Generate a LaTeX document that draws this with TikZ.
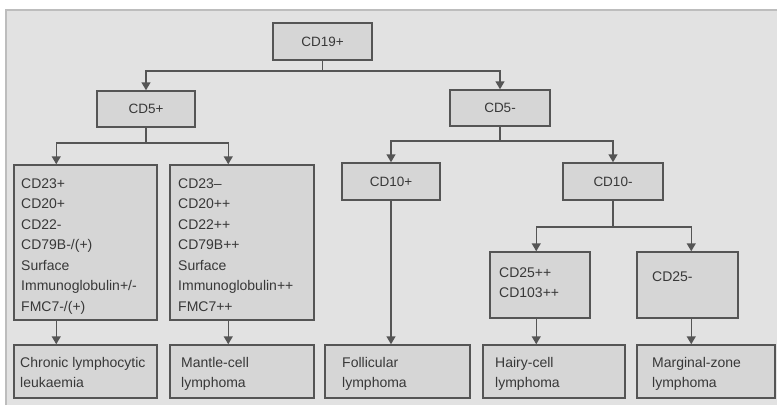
\documentclass[tikz,border=0pt]{standalone}
\usepackage{fontspec}
\setmainfont{Liberation Sans}
\usetikzlibrary{arrows.meta,calc}
\definecolor{panel}{HTML}{E2E2E2}
\definecolor{paneledge}{HTML}{BDBDBD}
\definecolor{boxfill}{HTML}{D6D6D6}
\definecolor{edge}{HTML}{555555}
\definecolor{ink}{HTML}{383838}
\tikzset{
  box/.style={draw=edge, fill=boxfill, line width=1.5pt, rectangle, inner sep=0pt,
    text=ink, font=\fontsize{13.5}{20.5}\selectfont},
  txt/.style={anchor=north west, inner sep=0pt, align=left, text=ink,
    font=\fontsize{14}{20.5}\selectfont},
  txtb/.style={anchor=north west, inner sep=0pt, align=left, text=ink,
    font=\fontsize{14}{19.5}\selectfont},
  conn/.style={draw=edge, line width=1.5pt},
  arr/.style={conn, -{Triangle[width=9pt,length=8pt]}}
}
\begin{document}
\begin{tikzpicture}[x=1pt,y=-1pt]
\useasboundingbox (0,0) rectangle (777,405);
\fill[panel] (6,10) rectangle (777,405);
\draw[paneledge, line width=1.5pt] (6,405) -- (6,10) -- (777,10);

% level 1
\node[box, minimum width=99pt, minimum height=37pt] (cd19) at (322.5,41.5) {CD19+};
% level 2
\node[box, minimum width=98pt, minimum height=36pt] (cd5p) at (146,109) {CD5+};
\node[box, minimum width=100pt, minimum height=36pt] (cd5m) at (500,108) {CD5-};
% level 3
\node[box, minimum width=143pt, minimum height=155pt] (b1) at (85.5,242.5) {};
\node[box, minimum width=144pt, minimum height=155pt] (b2) at (242,242.5) {};
\node[box, minimum width=98pt, minimum height=37pt] (cd10p) at (391,181.5) {CD10+};
\node[box, minimum width=100pt, minimum height=37pt] (cd10m) at (613,181.5) {CD10-};
% level 4
\node[box, minimum width=100pt, minimum height=66pt] (cd25p) at (540,285) {};
\node[box, minimum width=101pt, minimum height=66pt] (cd25m) at (687.5,285) {};
% level 5
\node[box, minimum width=143pt, minimum height=53pt] (chr) at (85.5,371.5) {};
\node[box, minimum width=144pt, minimum height=53pt] (man) at (242,371.5) {};
\node[box, minimum width=145pt, minimum height=53pt] (fol) at (397.5,371.5) {};
\node[box, minimum width=142pt, minimum height=53pt] (hai) at (554,371.5) {};
\node[box, minimum width=138pt, minimum height=53pt] (mar) at (706,371.5) {};

% texts
\node[txt] (t1) at (21,178.5) {CD23+\\CD20+\\CD22-\\CD79B-/(+)\\Surface\\Immunoglobulin+/-\\FMC7-/(+)};
\node[txt] (t2) at (178,178.5) {CD23--\\CD20++\\CD22++\\CD79B++\\Surface\\Immunoglobulin++\\FMC7++};
\node[txt] (t3) at (499,267.5) {CD25++\\CD103++};
\node[txt] (t4) at (652,271.5) {CD25-};
\node[txtb] (t5) at (20,357.5) {Chronic lymphocytic\\leukaemia};
\node[txtb] (t6) at (181,357.5) {Mantle-cell\\lymphoma};
\node[txtb] (t7) at (342,357.5) {Follicular\\lymphoma};
\node[txtb] (t8) at (495,357.5) {Hairy-cell\\lymphoma};
\node[txtb] (t9) at (652,357.5) {Marginal-zone\\lymphoma};

% connectors
\draw[conn] (cd19.south) -- ++(0,10) coordinate (j1);
\draw[arr] (j1) -| (cd5p.north);
\draw[arr] (j1) -| (cd5m.north);

\coordinate (a1) at ($(b1.north west)+(43,0)$);
\coordinate (a2) at ($(b2.north west)+(59,0)$);
\draw[conn] (cd5p.south) -- ++(0,15) coordinate (j2);
\draw[arr] (j2) -| (a1);
\draw[arr] (j2) -| (a2);

\draw[conn] (cd5m.south) -- ++(0,14) coordinate (j3);
\draw[arr] (j3) -| (cd10p.north);
\draw[arr] (j3) -| (cd10m.north);

\draw[arr] (cd10p.south) -- (cd10p.south |- fol.north);

\coordinate (a3) at ($(cd25p.north west)+(47,0)$);
\coordinate (a4) at ($(cd25m.north west)+(55,0)$);
\draw[conn] (cd10m.south) -- ++(0,26) coordinate (j4);
\draw[arr] (j4) -| (a3);
\draw[arr] (j4) -| (a4);

\draw[arr] (a1 |- b1.south) -- (a1 |- chr.north);
\draw[arr] (a2 |- b2.south) -- (a2 |- man.north);
\draw[arr] (a3 |- cd25p.south) -- (a3 |- hai.north);
\draw[arr] (a4 |- cd25m.south) -- (a4 |- mar.north);
\end{tikzpicture}
\end{document}
